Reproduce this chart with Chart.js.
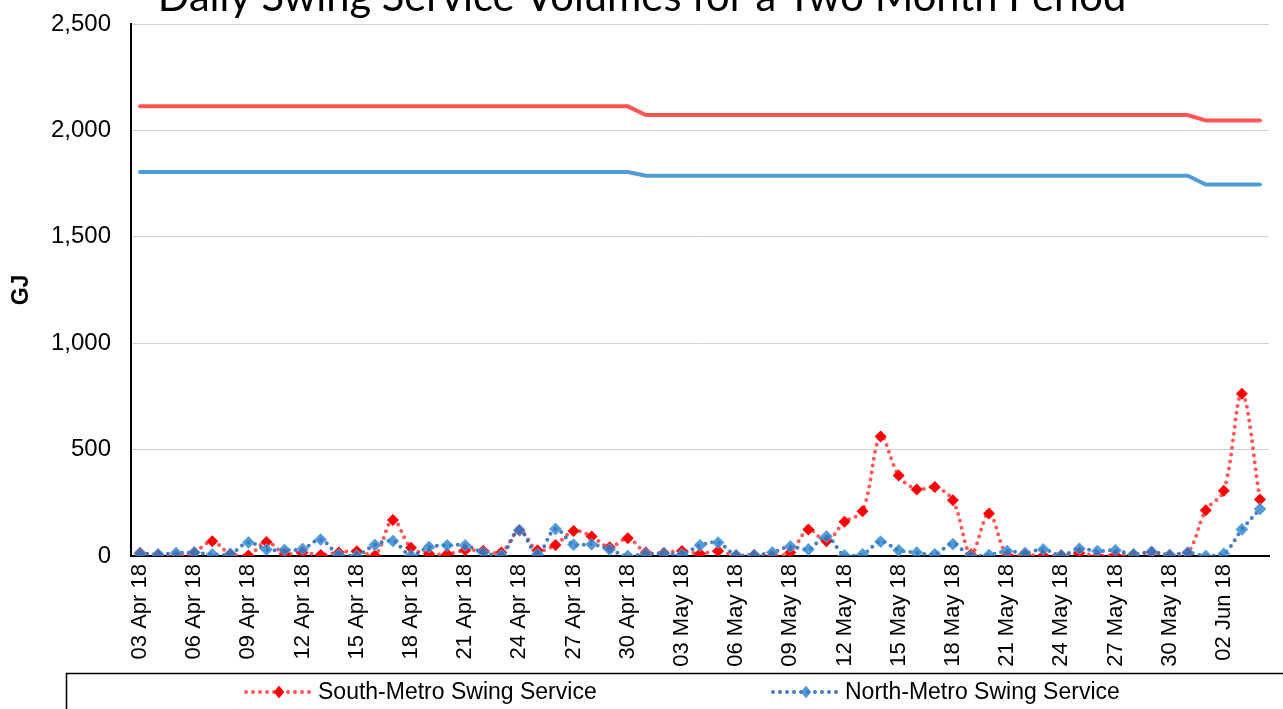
<!DOCTYPE html>
<html><head><meta charset="utf-8">
<script src="https://cdn.jsdelivr.net/npm/chart.js@4/dist/chart.umd.min.js"></script>
<style>html,body{margin:0;padding:0;background:#fff;overflow:hidden}#wrap{width:1283px;height:709px;position:relative}</style>
</head><body><div id="wrap"><canvas id="c" width="1283" height="709"></canvas></div>
<script>
const chartTitle = 'Daily Swing Service Volumes for a Two Month Period';
const yAxisTitle = 'GJ';
const dates = [
 '03 Apr 18','04 Apr 18','05 Apr 18','06 Apr 18','07 Apr 18','08 Apr 18','09 Apr 18','10 Apr 18','11 Apr 18','12 Apr 18',
 '13 Apr 18','14 Apr 18','15 Apr 18','16 Apr 18','17 Apr 18','18 Apr 18','19 Apr 18','20 Apr 18','21 Apr 18','22 Apr 18',
 '23 Apr 18','24 Apr 18','25 Apr 18','26 Apr 18','27 Apr 18','28 Apr 18','29 Apr 18','30 Apr 18','01 May 18','02 May 18',
 '03 May 18','04 May 18','05 May 18','06 May 18','07 May 18','08 May 18','09 May 18','10 May 18','11 May 18','12 May 18',
 '13 May 18','14 May 18','15 May 18','16 May 18','17 May 18','18 May 18','19 May 18','20 May 18','21 May 18','22 May 18',
 '23 May 18','24 May 18','25 May 18','26 May 18','27 May 18','28 May 18','29 May 18','30 May 18','31 May 18','01 Jun 18',
 '02 Jun 18','03 Jun 18','04 Jun 18'
];
const southSwing = [15,5,0,18,69,8,2,66,11,17, 5,17,22,2,169,39,11,9,27,25, 17,120,27,52,118,92,41,83,17,15,
 23,11,23,3,5,0,17,124,69,161, 210,561,378,313,324,262,8,200,3,5, 2,3,14,0,5,8,16,5,14,215, 307,763,265];
const northSwing = [12,8,14,16,8,10,64,30,28,33, 77,6,2,52,70,2,42,50,50,16, 3,122,8,127,53,55,30,0,9,12,
 8,50,63,3,5,17,45,31,92,3, 8,67,27,16,8,56,0,5,23,14, 31,3,34,23,27,8,20,5,16,0, 11,125,221];
const southCapacity = [2113,2113,2113,2113,2113,2113,2113,2113,2113,2113, 2113,2113,2113,2113,2113,2113,2113,2113,2113,2113,
 2113,2113,2113,2113,2113,2113,2113,2113,2072,2072, 2072,2072,2072,2072,2072,2072,2072,2072,2072,2072,
 2072,2072,2072,2072,2072,2072,2072,2072,2072,2072, 2072,2072,2072,2072,2072,2072,2072,2072,2072,2047, 2047,2047,2047];
const northCapacity = [1804,1804,1804,1804,1804,1804,1804,1804,1804,1804, 1804,1804,1804,1804,1804,1804,1804,1804,1804,1804,
 1804,1804,1804,1804,1804,1804,1804,1804,1787,1787, 1787,1787,1787,1787,1787,1787,1787,1787,1787,1787,
 1787,1787,1787,1787,1787,1787,1787,1787,1787,1787, 1787,1787,1787,1787,1787,1787,1787,1787,1787,1746, 1746,1746,1746];
const yMin = 0, yMax = 2500, yStep = 500;
const labelEvery = 3;

const FONT = "'Liberation Sans', Arial, sans-serif";

const overlay = {
  id: 'overlay',
  afterDraw(chart) {
    const ctx = chart.ctx;
    ctx.save();
    let size = 40;
    ctx.font = size + "px Lato, 'Open Sans', sans-serif";
    const w = ctx.measureText(chartTitle).width;
    size = size * 970 / w;
    ctx.font = size.toFixed(1) + "px Lato, 'Open Sans', sans-serif";
    ctx.fillStyle = '#000';
    ctx.textAlign = 'center';
    ctx.textBaseline = 'alphabetic';
    ctx.fillText(chartTitle, 642, 11);
    ctx.strokeStyle = '#000';
    ctx.lineWidth = 1.5;
    ctx.strokeRect(66.5, 673.5, 1300, 80);
    const items = chart.data.datasets.filter(d => d.inLegend);
    const starts = [244, 771];
    items.forEach((d, i) => {
      const x = starts[i], y = 692;
      ctx.save();
      ctx.strokeStyle = d.borderColor;
      ctx.lineWidth = 4;
      ctx.lineCap = 'round';
      ctx.setLineDash([0, 7]);
      ctx.beginPath(); ctx.moveTo(x + 2, y); ctx.lineTo(x + 70, y); ctx.stroke();
      ctx.restore();
      ctx.fillStyle = d.pointBackgroundColor;
      const r = 6.5, cx = x + 35;
      ctx.beginPath(); ctx.moveTo(cx, y - r); ctx.lineTo(cx + r * 0.8, y); ctx.lineTo(cx, y + r); ctx.lineTo(cx - r * 0.8, y); ctx.closePath(); ctx.fill();
      ctx.fillStyle = '#000';
      ctx.font = '23px ' + FONT;
      ctx.textAlign = 'left';
      ctx.textBaseline = 'middle';
      ctx.fillText(d.label, x + 74, y + 1);
    });
    ctx.restore();
  }
};

new Chart(document.getElementById('c'), {
  type: 'line',
  data: {
    labels: dates,
    datasets: [
      { label: 'South-Metro Swing Service', inLegend: true, data: southSwing, order: 1,
        borderColor: 'rgba(255,70,70,0.9)', borderWidth: 4, borderDash: [0, 7], borderCapStyle: 'round',
        tension: 0.35, pointStyle: 'rectRot', pointRadius: 6, pointBackgroundColor: '#ff0000', pointBorderColor: '#ff0000', pointBorderWidth: 0 },
      { label: 'North-Metro Swing Service', inLegend: true, data: northSwing, order: 0,
        borderColor: 'rgba(50,110,190,0.9)', borderWidth: 4, borderDash: [0, 7], borderCapStyle: 'round',
        tension: 0.35, pointStyle: 'rectRot', pointRadius: 6, pointBackgroundColor: 'rgba(40,130,205,0.8)', pointBorderColor: 'rgba(110,170,225,0.9)', pointBorderWidth: 1 },
      { label: 'South-Metro Capacity', data: southCapacity, order: 2,
        borderColor: '#ff5555', borderWidth: 4, pointRadius: 0, tension: 0, borderCapStyle: 'round' },
      { label: 'North-Metro Capacity', data: northCapacity, order: 3,
        borderColor: '#4f9dd4', borderWidth: 4, pointRadius: 0, tension: 0, borderCapStyle: 'round' }
    ]
  },
  options: {
    responsive: false,
    animation: false,
    layout: { padding: { top: 24, right: 14, left: 0, bottom: 0 } },
    plugins: { legend: { display: false }, tooltip: { enabled: false }, title: { display: false } },
    scales: {
      x: {
        offset: true,
        grid: { display: false, drawTicks: false },
        border: { display: true, color: '#000', width: 2 },
        afterFit(s) { s.height = 153; s.paddingLeft = 0; s.paddingRight = 0; },
        ticks: {
          autoSkip: false, minRotation: 90, maxRotation: 90, padding: 8, color: '#000',
          font: { family: FONT, size: 22 },
          callback(v, i) { return i % labelEvery === 0 ? dates[i] : ''; }
        }
      },
      y: {
        min: yMin, max: yMax,
        afterFit(s) { s.width = 131; s.paddingTop = 0; s.paddingBottom = 0; },
        grid: { color: '#d0d0d0', lineWidth: 1, drawTicks: false },
        border: { display: true, color: '#000', width: 2 },
        title: { display: true, text: yAxisTitle, color: '#000', font: { family: FONT, size: 23, weight: 'bold' }, padding: { top: 8, bottom: 0 } },
        ticks: { stepSize: yStep, padding: 20, color: '#000', font: { family: FONT, size: 24 },
          callback(v) { return v.toLocaleString('en-US'); } }
      }
    }
  },
  plugins: [overlay]
});
</script>
</body></html>
